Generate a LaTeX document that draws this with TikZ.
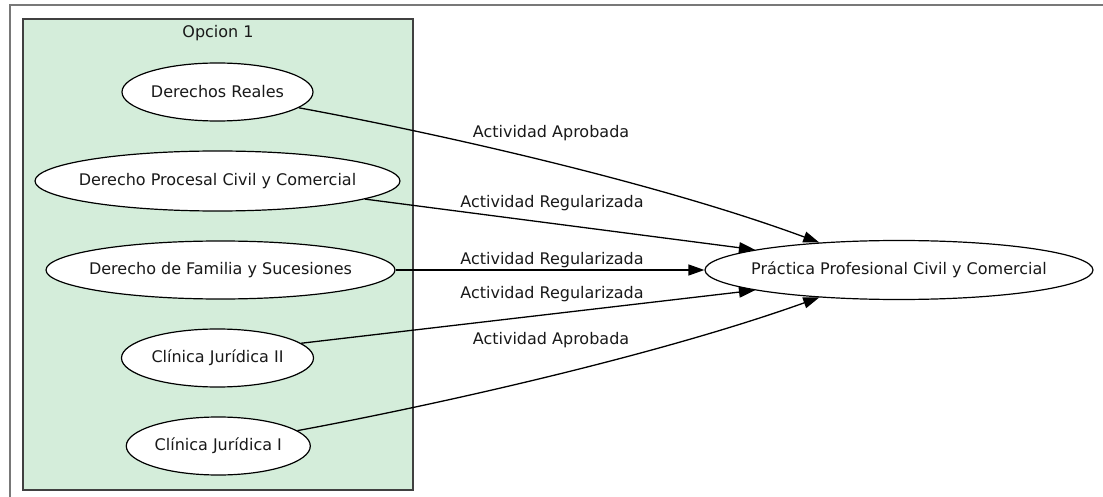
\documentclass[tikz,border=0pt]{standalone}
\usepackage{fontspec}
\setmainfont{DejaVu Sans}
\usetikzlibrary{arrows.meta,shapes.geometric}
\definecolor{clusterfill}{RGB}{212,237,218}
\definecolor{framegray}{RGB}{120,120,120}
\begin{document}
\begin{tikzpicture}[x=1pt,y=-1pt,
  txt/.style={font=\fontsize{16}{19}\selectfont, text=black!90, inner sep=0pt},
  course/.style={ellipse, draw=black, line width=1.2pt, fill=white, inner sep=0pt},
  conn/.style={line width=1.3pt, draw=black, -{Triangle[length=16pt,width=11pt]}},
  clusterbox/.style={draw=black!75, line width=1.6pt, fill=clusterfill},
  framebox/.style={draw=framegray, line width=2pt}]
\useasboundingbox (0,0) rectangle (1103,497);
% outer frame (partially visible)
\draw[framebox] (10,510) -- (10,5.3) -- (1110,5.3);
% cluster
\draw[clusterbox] (23,19) rectangle (413,490);
\node[txt] (cl) at (218,33) {Opcion 1};
% nodes
\node[course, minimum width=191pt, minimum height=58pt, label={[txt]center:Derechos Reales}] (DR) at (217.5,92) {};
\node[course, minimum width=365pt, minimum height=60pt, label={[txt]center:Derecho Procesal Civil y Comercial}] (PC) at (217.5,181) {};
\node[course, minimum width=349pt, minimum height=58pt, label={[txt]center:Derecho de Familia y Sucesiones}] (FS) at (220.5,270) {};
\node[course, minimum width=192pt, minimum height=58pt, label={[txt]center:Clínica Jurídica II}] (C2) at (217.5,358) {};
\node[course, minimum width=184pt, minimum height=58pt, label={[txt]center:Clínica Jurídica I}] (C1) at (218.3,446) {};
\node[course, minimum width=388pt, minimum height=59pt, label={[txt]center:Práctica Profesional Civil y Comercial}] (P) at (899,270) {};
% connectors
\draw[conn] (DR.-11) .. controls (420,130) and (650,180) .. (P.161);
\draw[conn] (PC.-7.6) -- (P.172.3);
\draw[conn] (FS.east) -- (P.west);
\draw[conn] (C2.10) -- (P.-172.3);
\draw[conn] (C1.11) .. controls (420,408) and (650,358) .. (P.-161);
% edge labels
\node[txt] (l1) at (551,133) {Actividad Aprobada};
\node[txt] (l2) at (552,203) {Actividad Regularizada};
\node[txt] (l3) at (552,260) {Actividad Regularizada};
\node[txt] (l4) at (552,294) {Actividad Regularizada};
\node[txt] (l5) at (551,340) {Actividad Aprobada};
\end{tikzpicture}
\end{document}
